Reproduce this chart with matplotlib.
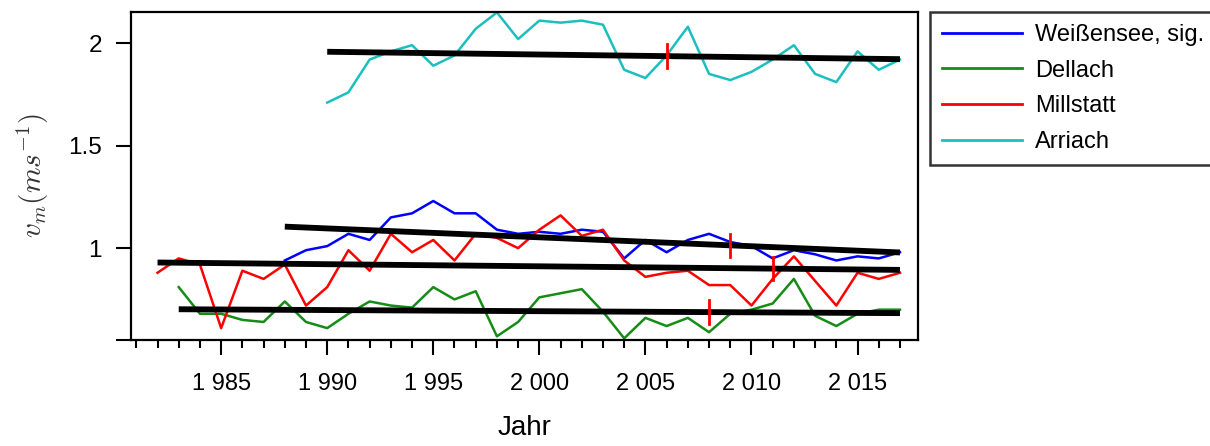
import matplotlib
matplotlib.use("Agg")
import matplotlib.pyplot as plt
from matplotlib.ticker import MultipleLocator, FuncFormatter

plt.rcParams['font.family'] = ['Liberation Sans', 'DejaVu Sans']
plt.rcParams['mathtext.fontset'] = 'cm'

# Jahreswerte der mittleren Windgeschwindigkeit
years_w = list(range(1988, 2018))
weissensee = [0.94, 0.99, 1.01, 1.07, 1.04, 1.15, 1.17, 1.23, 1.17, 1.17,
              1.09, 1.07, 1.08, 1.07, 1.09, 1.08, 0.95, 1.04, 0.98, 1.04,
              1.07, 1.03, 1.01, 0.95, 0.99, 0.97, 0.94, 0.96, 0.95, 0.98]

years_d = list(range(1983, 2018))
dellach = [0.81, 0.68, 0.68, 0.65, 0.64, 0.74, 0.64, 0.61, 0.68, 0.74,
           0.72, 0.71, 0.81, 0.75, 0.79, 0.57, 0.64, 0.76, 0.78, 0.80,
           0.69, 0.56, 0.66, 0.62, 0.66, 0.59, 0.68, 0.70, 0.73, 0.85,
           0.67, 0.62, 0.68, 0.70, 0.70]

years_m = list(range(1982, 2018))
millstatt = [0.88, 0.95, 0.92, 0.61, 0.89, 0.85, 0.92, 0.72, 0.81, 0.99,
             0.89, 1.07, 0.98, 1.04, 0.94, 1.07, 1.05, 1.00, 1.09, 1.16,
             1.06, 1.09, 0.94, 0.86, 0.88, 0.89, 0.82, 0.82, 0.72, 0.85,
             0.96, 0.84, 0.72, 0.88, 0.85, 0.88]

years_a = list(range(1990, 2018))
arriach = [1.71, 1.76, 1.92, 1.96, 1.99, 1.89, 1.94, 2.07, 2.15, 2.02,
           2.11, 2.10, 2.11, 2.09, 1.87, 1.83, 1.94, 2.08, 1.85, 1.82,
           1.86, 1.92, 1.99, 1.85, 1.81, 1.96, 1.87, 1.92]

# lineare Trends (Start, Ende) und Bruchpunkte
trend_w = ((1988, 1.105), (2017, 0.979))
trend_d = ((1983, 0.702), (2017, 0.683))
trend_m = ((1982, 0.930), (2017, 0.894))
trend_a = ((1990, 1.958), (2017, 1.922))
breaks = {'w': 2009, 'd': 2008, 'm': 2011, 'a': 2006}

labels = ['Weißensee, sig.', 'Dellach', 'Millstatt', 'Arriach']
colors = ['#0000ff', '#168c16', '#ff0000', '#1cbfbf']

fig = plt.figure(figsize=(12.1, 4.46), dpi=100)
ax = fig.add_axes([131 / 1210, 1 - 340 / 446, (918 - 131) / 1210, (340 - 12) / 446])

series = [(years_w, weissensee, trend_w, 'w'),
          (years_d, dellach, trend_d, 'd'),
          (years_m, millstatt, trend_m, 'm'),
          (years_a, arriach, trend_a, 'a')]

handles = []
for (x, y, tr, key), lab, col in zip(series, labels, colors):
    h, = ax.plot(x, y, color=col, lw=1.8, label=lab, zorder=2)
    handles.append(h)

for (x, y, tr, key) in series:
    (x0, y0), (x1, y1) = tr
    ax.plot([x0, x1], [y0, y1], color='black', lw=4.2, solid_capstyle='butt', zorder=3)
    b = breaks[key]
    yb = y0 + (y1 - y0) * (b - x0) / (x1 - x0)
    ax.plot([b, b], [yb - 0.057, yb + 0.057], color='#ff0000', lw=2.0, zorder=4)

ax.set_xlim(1980.75, 2017.85)
ax.set_ylim(0.552, 2.152)
ax.set_yticks([1, 1.5, 2])
ax.set_yticklabels(['1', '1.5', '2'])
ax.set_yticks([0.552], minor=True)
ax.xaxis.set_major_locator(MultipleLocator(5))
ax.xaxis.set_minor_locator(MultipleLocator(1))
ax.xaxis.set_major_formatter(FuncFormatter(lambda v, p: f"{int(v):,}".replace(",", " ")))

ax.tick_params(axis='y', which='both', length=11, width=1.5, pad=10, labelsize=17.5)
ax.tick_params(axis='x', which='major', length=11, width=1.5, pad=13, labelsize=17)
ax.tick_params(axis='x', which='minor', length=6, width=1.5)
for sp in ax.spines.values():
    sp.set_linewidth(1.6)

ax.set_xlabel('Jahr', fontsize=20, labelpad=14)
ax.set_ylabel(r'$v_m(ms^{-1})$', fontsize=21, color='#333333', labelpad=12)

leg = fig.legend(handles=handles, loc='upper left',
                 bbox_to_anchor=(930 / 1210, 1 - 12 / 446),
                 fontsize=17, frameon=True, fancybox=False,
                 handlelength=3.4, handletextpad=0.55, labelspacing=0.58,
                 borderpad=0.5, borderaxespad=0)
leg.get_frame().set_edgecolor('black')
leg.get_frame().set_linewidth(1.8)
for line in leg.get_lines():
    line.set_linewidth(2)

fig.savefig('out.png', dpi=100)
